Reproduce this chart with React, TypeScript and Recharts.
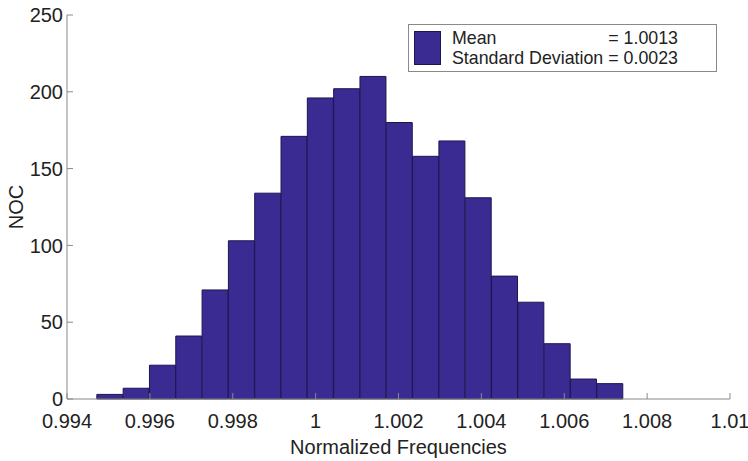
import { BarChart, Bar, XAxis, YAxis, Legend } from "recharts";

// histogram bin centres (bin width ~0.000635) and counts
const binCenters = [
  0.9950375, 0.9956725, 0.9963075, 0.9969425, 0.9975775, 0.9982125, 0.9988475,
  0.9994825, 1.0001175, 1.0007525, 1.0013875, 1.0020225, 1.0026575, 1.0032925,
  1.0039275, 1.0045625, 1.0051975, 1.0058325, 1.0064675, 1.0071025,
];
const counts = [3, 7, 22, 41, 71, 103, 134, 171, 196, 202, 210, 180, 158, 168, 131, 80, 63, 36, 13, 10];

const xTicks = [0.994, 0.996, 0.998, 1, 1.002, 1.004, 1.006, 1.008, 1.01];
const yTicks = [0, 50, 100, 150, 200, 250];

const statNames = ["Mean", "Standard Deviation"];
const statValues = ["1.0013", "0.0023"];

const data = binCenters.map((x, i) => ({ x, noc: counts[i] }));

const FONT = '"Liberation Sans", Arial, Helvetica, sans-serif';
const BAR = "#3a2b93";
const EDGE = "#1d1650";
const AXIS = "#8a8a8a";

function StatsBox() {
  return (
    <div
      style={{
        width: 307,
        height: 46,
        border: `1px solid ${AXIS}`,
        background: "#fff",
        display: "flex",
        alignItems: "center",
        fontFamily: FONT,
        fontSize: 17.8,
        color: "#222",
        lineHeight: "20.5px",
      }}
    >
      <div style={{ width: 27, height: 34, marginLeft: 5, background: BAR, border: `1px solid ${EDGE}`, boxSizing: "border-box" }} />
      <table style={{ borderCollapse: "collapse", marginLeft: 11 }}>
        <tbody>
          {statNames.map((n, i) => (
            <tr key={n}>
              <td style={{ padding: 0, paddingRight: 5 }}>{n}</td>
              <td style={{ padding: 0 }}>= {statValues[i]}</td>
            </tr>
          ))}
        </tbody>
      </table>
    </div>
  );
}

export default function App() {
  const fmt = (v: number) => String(Number(v.toFixed(3)));
  const blank = () => "";
  const tickStyle = { fontFamily: FONT, fontSize: 20, fill: "#222" };

  return (
    <div style={{ width: 748, height: 461, background: "#fff" }}>
      <style>{`body{margin:0}`}</style>
      <BarChart
        width={748}
        height={461}
        data={data}
        margin={{ top: 15, right: 18, bottom: 0, left: 0 }}
        barCategoryGap={0}
        barGap={0}
      >
        <XAxis
          dataKey="x"
          type="number"
          domain={[0.994, 1.01]}
          allowDataOverflow
          ticks={xTicks}
          tickFormatter={fmt}
          height={62}
          tickSize={-6}
          tickMargin={21}
          interval={0}
          stroke={AXIS}
          tick={tickStyle}
          label={{ value: "Normalized Frequencies", position: "center", dy: 17, style: { fontFamily: FONT, fontSize: 20, fill: "#222" } }}
        />
        <XAxis
          xAxisId="top"
          orientation="top"
          dataKey="x"
          type="number"
          domain={[0.994, 1.01]}
          allowDataOverflow
          ticks={xTicks}
          interval={0}
          height={0}
          tickSize={-6}
          tickFormatter={blank}
          stroke={AXIS}
        />
        <YAxis
          domain={[0, 250]}
          ticks={yTicks}
          width={67}
          tickSize={-6}
          tickMargin={10}
          interval={0}
          stroke={AXIS}
          tick={tickStyle}
          label={{ value: "NOC", angle: -90, position: "center", dx: -18, style: { fontFamily: FONT, fontSize: 20, fill: "#222" } }}
        />
        <YAxis
          yAxisId="right"
          orientation="right"
          domain={[0, 250]}
          ticks={yTicks}
          interval={0}
          width={0}
          tickSize={-6}
          tickFormatter={blank}
          stroke={AXIS}
        />
        <Legend
          layout="vertical"
          align="center"
          verticalAlign="middle"
          wrapperStyle={{ left: 408, top: 24, width: 309 }}
          content={() => <StatsBox />}
        />
        <Bar dataKey="noc" name="NOC" fill={BAR} stroke={EDGE} strokeWidth={1} isAnimationActive={false} />
      </BarChart>
    </div>
  );
}
